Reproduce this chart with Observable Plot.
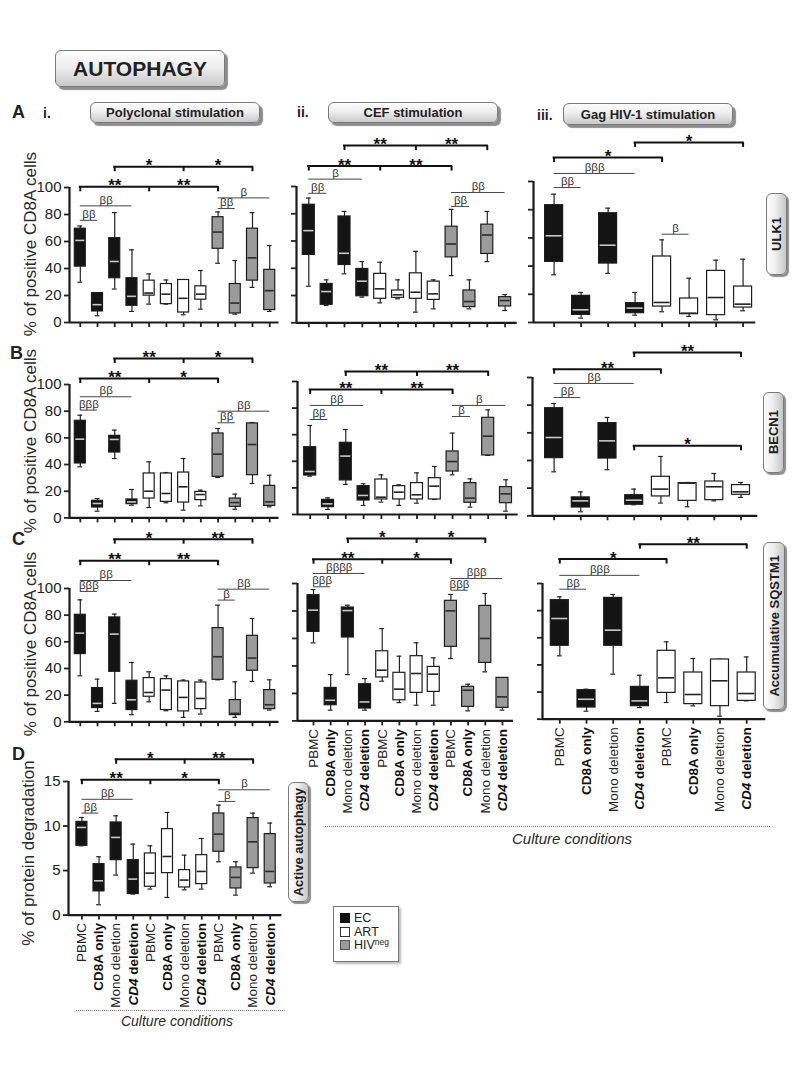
<!DOCTYPE html>
<html><head><meta charset="utf-8">
<script src="https://cdn.jsdelivr.net/npm/d3@7"></script>
<script src="https://cdn.jsdelivr.net/npm/@observablehq/plot@0.6"></script>
<style>
body{margin:0;background:#fff;}
#page{position:relative;width:800px;height:1066px;overflow:hidden;font-family:"Liberation Sans",Arial,sans-serif;color:#222;background:#fff;}
#page div{line-height:1;}
</style>
</head><body><div id="page"></div>
<script>
// ---------- categories ----------
const conditions = ["PBMC", "CD8A only", "Mono deletion", "CD4 deletion"];
const groups = ["EC", "ART", "HIVneg"];
const pctTicks = [0, 20, 40, 60, 80, 100];
const degTicks = [0, 5, 10, 15];

// ---------- box statistics: [min, q1, median, q3, max]; order EC x4, ART x4, HIVneg x4 ----------
const ulk1Poly = [[29.8,41.4,60.8,69.5,71.5],[5,8.2,13.2,21.8,21.8],[24.8,32.8,45.2,62.5,81.4],[8.2,12.4,19.4,32.8,53.8],
  [13.6,19.9,21.8,31,36],[13.6,13.6,21,28.5,31.5],[5.7,7.4,17.9,31.5,31.5],[9.9,16.9,21,26.8,38.5],
  [43.9,54.6,67,78,81.9],[6.2,6.7,14.4,28.5,45.9],[26,31,47.9,69.5,81.4],[8.2,9.2,23.6,39,57]];
const ulk1Cef = [[26.8,49.8,67.6,86.6,91.5],[12.7,13.2,22.9,28.5,31.5],[35.9,42.4,51,78,81.7],[18.8,19.5,30.5,39.5,44.9],
  [14.6,17.6,24.9,35.9,44.4],[17.6,18.3,20.5,23.7,31.5],[7.8,17.6,22.4,36.3,52.4],[10.2,16.8,21.2,30.2,31.5],
  [34.6,48,57.8,70.5,83.2],[10.2,11.5,15.6,23.7,31.5],[44.9,50.5,64.4,72,81.7],[9,12,16.3,18.8,20.7]];
const ulk1Gag = [[33.8,43,61.5,83.2,91],[3.1,5.4,9,18.9,21.3],[34.8,41.8,54.8,77.5,81.1],[5.2,6.6,10.2,13.7,21.3],
  [7.6,11.3,14.2,46.8,58.6],[4.3,5.9,6.6,17,31.4],[1.9,5.2,17.7,36.6,44.2],[8.3,10.6,13,25.5,44.9]];
const becn1Poly = [[38.3,40.8,59,72.8,77],[5,7.8,10.8,12.8,14.5],[44.5,49,58.8,61.5,65.8],[9.5,10.3,12,13.8,21.3],
  [7.8,14.5,20,33.3,42],[11.3,12,18.3,33.3,34],[5.8,11.5,23.3,34,44.5],[9,13.3,17.5,19.5,20.8],
  [30.3,30.8,47.8,63.3,67],[6.5,8.3,11.5,14.5,17.8],[25.8,32,55,70.8,71.5],[8.3,9,12,24,32]];
const becn1Cef = [[28.8,29.3,32.3,50.6,66.9],[3.8,5.5,8,11,12.5],[22.6,25.6,43.9,53.9,63.9],[6.8,10.5,14.3,21.3,23.1],
  [9.3,11.3,13,26.3,29.8],[6.8,11.3,16.8,21.3,22.3],[8.5,11.3,14.8,23.6,31.3],[11.3,11.3,21.3,27.3,36.1],
  [29.8,32.3,39.8,47.4,61.2],[5.5,8.8,12.3,23.6,26.8],[44.4,44.4,58.9,72.7,78.7],[2.5,8.5,15.5,20.6,26.1]];
const becn1Gag = [[31.8,41.7,56.6,77.8,81.2],[2.9,6,10.8,13.3,17.3],[33.3,41.4,54.2,67,71.1],[8,8,11.3,14.9,19.3],
  [9.2,14,19.3,28.2,42.9],[6.5,10.8,23.6,23.6,24.1],[10.8,11.3,21,24.8,30.6],[13.3,15.2,17.3,22.2,24.1]];
const sqstm1Poly = [[34.5,50.8,66.5,80.3,91.5],[7.8,10.3,13.8,25.3,32],[13.8,37.5,65.8,78.3,80.8],[5.3,8.8,16.5,30.8,44.5],
  [15,18.8,22,32.8,37.5],[8.3,8.8,23.8,32,34.5],[3.3,7.8,18.3,30.3,31.3],[5.8,9.5,17.5,29.5,31.3],
  [31.5,31.5,48.8,70.3,87.5],[3.3,5,6.3,16.3,30],[30.3,38.3,47.8,64.5,77.5],[8.8,9.5,12.8,23.8,31.5]];
const sqstm1Cef = [[56.8,64.8,80.6,91.5,95.6],[7.8,11.4,15,24,33.7],[33.7,60.7,80.3,82.5,84.2],[7.8,9,13.8,26.7,30.8],
  [28.9,31.6,36.9,50.7,67.2],[13.3,15,23.1,35,47.1],[11.4,20.4,34.5,47.1,56.8],[11.4,21.1,34,39.3,45.9],
  [45.4,53.9,80.1,87.4,92],[7.3,10.2,22.3,24.8,26.7],[35.7,42.2,60,83.7,92.7],[7.8,9.5,17.5,31.3,31.3]];
const sqstm1Gag = [[46.7,54.1,74.2,87.7,90.2],[5.9,8.6,14.7,21.4,22.1],[33.2,54.1,65.6,89.4,91.9],[8.6,9.6,13.5,23.8,32.4],
  [12.3,19.4,30.5,50.4,57],[9.8,11.1,18.2,34.4,44.7],[2.2,9.6,28.3,44,44.2],[13.5,13.5,18.9,34.4,45.9]];
const degradation = [[7.78,7.78,9.84,10.47,10.96],[1.16,2.66,3.85,5.72,6.55],[4.49,6.17,8.72,10.4,11.15],[2.36,2.36,4.04,6.17,7.97],
  [2.92,3.18,4.71,6.92,7.78],[1.98,4.71,6.58,9.65,11.52],[2.84,3.1,3.93,5.05,6.73],[2.92,3.48,4.9,6.73,8.6],
  [5.99,7.11,9.09,11.41,12.35],[2.24,2.99,4.23,5.35,5.99],[4.71,5.27,8.23,10.89,11.45],[3.18,3.55,4.9,9.09,10.33]];

// ---------- significance annotations (box indices + symbols) ----------
const std = (u, l, b03, b01, b811, b89) => [
  {kind: "pair", a: 2, m: 6, b: 10, t: u}, {kind: "pair", a: 0, m: 4, b: 8, t: l},
  {kind: "beta", a: 0, b: 3, t: b03}, {kind: "beta", a: 0, b: 1, t: b01},
  {kind: "beta", a: 8, b: 11, t: b811}, {kind: "beta", a: 8, b: 9, t: b89}];
const sigA1 = std(["*","*"], ["**","**"], "ββ", "ββ", "β", "ββ");
const sigA2 = std(["**","**"], ["**","**"], "β", "ββ", "ββ", "ββ");
const sigA3 = [{kind:"single",a:3,b:7,t:"*"},{kind:"single",a:0,b:4,t:"*"},{kind:"beta",a:0,b:3,t:"βββ"},{kind:"beta",a:0,b:1,t:"ββ"},{kind:"beta",a:4,b:5,t:"β"}];
const sigB1 = std(["**","*"], ["**","*"], "ββ", "βββ", "ββ", "ββ");
const sigB2 = std(["**","**"], ["**","**"], "ββ", "ββ", "β", "β");
const sigB3 = [{kind:"single",a:3,b:7,t:"**"},{kind:"single",a:0,b:4,t:"**"},{kind:"beta",a:0,b:3,t:"ββ"},{kind:"beta",a:0,b:1,t:"ββ"},{kind:"single",a:3,b:7,t:"*"}];
const sigC1 = std(["*","**"], ["**","**"], "ββ", "βββ", "ββ", "β");
const sigC2 = std(["*","*"], ["**","*"], "ββββ", "βββ", "βββ", "βββ");
const sigC3 = [{kind:"single",a:3,b:7,t:"**"},{kind:"single",a:0,b:4,t:"*"},{kind:"beta",a:0,b:3,t:"βββ"},{kind:"beta",a:0,b:1,t:"ββ"}];
const sigD = std(["*","**"], ["**","*"], "ββ", "ββ", "β", "β");

// ---------- layout (page pixels) ----------
const layouts = [
  {data: ulk1Poly, sig: sigA1, levels: [115.4,100.5,86.4,75.7,92.3,84.4], ax: 68.5, y0: 322, yTop: 187, bx0: 79.3, bdx: 17.22, xEnd: 278, boxPx: 11, top: 100, ticks: pctTicks, yLabels: true},
  {data: ulk1Cef, sig: sigA2, levels: [130,115,105.4,95,95.6,85.4], ax: 296, y0: 322, yTop: 185.7, bx0: 308.3, bdx: 17.85, xEnd: 516.7, boxPx: 12, top: 100, ticks: pctTicks},
  {data: ulk1Gag, sig: sigA3, levels: [127.7,117,105.7,95.7,62.6], ax: 532.7, y0: 321.7, yTop: 180.7, bx0: 553.3, bdx: 27, xEnd: 755, boxPx: 18, top: 100, ticks: pctTicks},
  {data: becn1Poly, sig: sigB1, levels: [119.5,104.5,90.8,80.8,80,71.3], ax: 68.5, y0: 517.7, yTop: 384.3, bx0: 79.3, bdx: 17.22, xEnd: 278, boxPx: 11, top: 100, ticks: pctTicks, yLabels: true},
  {data: becn1Cef, sig: sigB2, levels: [107.5,94,82,71.4,82,73.7], ax: 297.3, y0: 514, yTop: 381, bx0: 310, bdx: 17.8, xEnd: 518, boxPx: 12, top: 100, ticks: pctTicks},
  {data: becn1Gag, sig: sigB3, levels: [118,106,95.7,85.5,50.6], ax: 531.7, y0: 515, yTop: 376.7, bx0: 553.3, bdx: 26.7, xEnd: 757, boxPx: 18, top: 100, ticks: pctTicks},
  {data: sqstm1Poly, sig: sigC1, levels: [137,120.8,106,97.8,99.5,91.3], ax: 68.5, y0: 721, yTop: 587.7, bx0: 79.3, bdx: 17.22, xEnd: 278, boxPx: 11, top: 100, ticks: pctTicks, yLabels: true},
  {data: sqstm1Cef, sig: sigC2, levels: [132.8,117.7,107.3,97.6,103.6,95.1], ax: 296.7, y0: 720.7, yTop: 583.3, bx0: 312.7, bdx: 17.18, xEnd: 512.7, boxPx: 12, top: 100, ticks: pctTicks, xLabels: true},
  {data: sqstm1Gag, sig: sigC3, levels: [129,118,106,95.8], ax: 541.7, y0: 719, yTop: 583.3, bx0: 559, bdx: 26.7, xEnd: 765, boxPx: 18, top: 100, ticks: pctTicks, xLabels: true},
  {data: degradation, sig: sigD, levels: [17.5,15.2,13,11.45,14.07,12.76], ax: 68.3, y0: 914.3, yTop: 780.7, bx0: 81.7, bdx: 17.12, xEnd: 281.7, boxPx: 11, top: 15, ticks: degTicks, yLabels: true, xLabels: true}
];

const fillOf = {EC: "#141414", ART: "#ffffff", HIVneg: "#9b9b9b"};
const medOf = {EC: "#c8c8c8", ART: "#222222", HIVneg: "#2a2a2a"};
const page = document.getElementById("page");

function drawPanel(L) {
  const n = L.data.length;
  const ML = 45, MT = 75, MR = 6, MB = L.xLabels ? 110 : 12;
  const innerW = L.xEnd - L.ax, innerH = L.y0 - L.yTop;
  const width = ML + innerW + MR, height = MT + innerH + MB;
  const xmin = (L.ax - L.bx0) / L.bdx, xmax = (L.xEnd - L.bx0) / L.bdx;
  const unitY = innerH / L.top;
  const hw = L.boxPx / 2 / L.bdx, cap = 2.4 / L.bdx, inset = 1 / L.bdx, drop = 5 / unitY;
  const rows = L.data.map((d, i) => ({i, g: groups[Math.floor(i / 4)], c: conditions[i % 4], min: d[0], q1: d[1], med: d[2], q3: d[3], max: d[4]}));
  const sig = L.sig.map((s, k) => ({...s, lv: L.levels[k]}));
  const brackets = sig.filter(s => s.kind !== "beta");
  const drops = brackets.flatMap(s => (s.kind === "pair" ? [s.a, s.m, s.b] : [s.a, s.b]).map(x => ({x, lv: s.lv})));
  const stars = brackets.flatMap(s => s.kind === "pair"
    ? [{x: (s.a + s.m) / 2, lv: s.lv, t: s.t[0]}, {x: (s.m + s.b) / 2, lv: s.lv, t: s.t[1]}]
    : [{x: (s.a + s.b) / 2, lv: s.lv, t: s.t}]);
  const betas = sig.filter(s => s.kind === "beta").map(s => ({...s, x: (s.a + s.b) / 2}));

  const marks = [];
  for (const g of groups) {
    const r = rows.filter(d => d.g === g);
    if (!r.length) continue;
    marks.push(
      Plot.ruleX(r, {x: "i", y1: "q3", y2: "max", stroke: "#222", strokeWidth: 1.2}),
      Plot.ruleX(r, {x: "i", y1: "min", y2: "q1", stroke: "#222", strokeWidth: 1.2}),
      Plot.ruleY(r, {y: "max", x1: d => d.i - cap, x2: d => d.i + cap, stroke: "#222", strokeWidth: 1.2}),
      Plot.ruleY(r, {y: "min", x1: d => d.i - cap, x2: d => d.i + cap, stroke: "#222", strokeWidth: 1.2}),
      Plot.rect(r, {x1: d => d.i - hw, x2: d => d.i + hw, y1: "q1", y2: "q3", fill: fillOf[g], stroke: "#1c1c1c", strokeWidth: 1.2}),
      Plot.ruleY(r, {y: "med", x1: d => d.i - hw + inset, x2: d => d.i + hw - inset, stroke: medOf[g], strokeWidth: 1.6})
    );
  }
  marks.push(
    Plot.ruleY([0], {stroke: "#1a1a1a", strokeWidth: 2.2}),
    Plot.ruleX([xmin], {stroke: "#1a1a1a", strokeWidth: 2.2}),
    Plot.axisY({ticks: L.ticks, tickSize: 5, tickPadding: 3, tickFormat: L.yLabels ? (d => String(d)) : (() => ""), strokeWidth: 1.8, label: null, fontSize: 15, fill: "#222"}),
    Plot.axisX({ticks: d3.range(n), tickSize: 5, tickFormat: () => "", strokeWidth: 1.8, label: null}),
    // significance brackets
    Plot.ruleY(brackets, {y: "lv", x1: "a", x2: "b", stroke: "#111", strokeWidth: 2, strokeLinecap: "square"}),
    Plot.ruleX(drops, {x: "x", y1: "lv", y2: d => d.lv - drop, stroke: "#111", strokeWidth: 2}),
    Plot.text(stars, {x: "x", y: "lv", text: "t", fontSize: 17, fontWeight: "bold", lineAnchor: "middle", dy: -1, fill: "#111"}),
    Plot.ruleY(betas, {y: "lv", x1: "a", x2: "b", stroke: "#444", strokeWidth: 1}),
    Plot.text(betas, {x: "x", y: "lv", text: "t", fontSize: 11.5, lineAnchor: "middle", dy: -6, fill: "#333"})
  );
  if (L.xLabels) {
    const lab = rows.map(r => ({i: r.i, t: r.c, bold: r.c === "CD8A only" || r.c === "CD4 deletion"}));
    marks.push(
      Plot.text(lab.filter(d => !d.bold), {x: "i", frameAnchor: "bottom", text: "t", rotate: -90, textAnchor: "end", lineAnchor: "middle", dy: 8, fontSize: 13.5, fill: "#222"}),
      Plot.text(lab.filter(d => d.bold), {x: "i", frameAnchor: "bottom", text: "t", rotate: -90, textAnchor: "end", lineAnchor: "middle", dy: 8, fontSize: 13.5, fontWeight: "bold", fill: "#111"})
    );
  }
  const svg = Plot.plot({
    width, height, marginLeft: ML, marginRight: MR, marginTop: MT, marginBottom: MB,
    x: {type: "linear", domain: [xmin, xmax]},
    y: {type: "linear", domain: [0, L.top]},
    style: {fontFamily: "'Liberation Sans', Arial, sans-serif", fontSize: "15px", color: "#222", background: "transparent", overflow: "visible"},
    marks
  });
  d3.select(svg).selectAll("text").filter(function () { return this.textContent === "CD4 deletion"; }).each(function () {
    const t = d3.select(this);
    t.text(null);
    t.append("tspan").attr("font-style", "italic").text("CD4");
    t.append("tspan").text(" deletion");
  });
  svg.style.position = "absolute";
  svg.style.left = (L.ax - ML) + "px";
  svg.style.top = (L.yTop - MT) + "px";
  svg.style.maxWidth = "none";
  svg.style.overflow = "visible";
  page.appendChild(svg);
}
layouts.forEach(drawPanel);

// ---------- text / decorations ----------
function el(html, css) {
  const d = document.createElement("div");
  d.innerHTML = html;
  d.style.cssText = "position:absolute;" + css;
  page.appendChild(d);
  return d;
}
const btn = "box-sizing:border-box;border:1px solid #7a7a7a;border-radius:6px;background:linear-gradient(#fdfdfd,#eeeeee 45%,#c9c9c9);box-shadow:3px 3px 1px #8d8d8d;display:flex;align-items:center;justify-content:center;font-weight:bold;color:#222;";
const vbtn = "box-sizing:border-box;border:1px solid #7a7a7a;border-radius:6px;background:linear-gradient(90deg,#fdfdfd,#eeeeee 45%,#c6c6c6);box-shadow:2px 2px 1px #8d8d8d;display:flex;align-items:center;justify-content:center;font-weight:bold;color:#222;";
const base = (fs, baseline) => `font-size:${fs}px;top:${(baseline - 0.85 * fs).toFixed(1)}px;`;

el("AUTOPHAGY", "left:55px;top:50px;width:170px;height:37px;font-size:21px;" + btn);
el("Polyclonal stimulation", "left:90px;top:102px;width:170px;height:21px;font-size:13px;" + btn);
el("CEF stimulation", "left:328px;top:102px;width:170px;height:21px;font-size:13px;" + btn);
el("Gag HIV-1 stimulation", "left:563px;top:103px;width:170px;height:22px;font-size:13px;" + btn);

const vlab = s => `<span style="writing-mode:vertical-rl;transform:rotate(180deg);white-space:nowrap;">${s}</span>`;
el(vlab("ULK1"), "left:766px;top:193px;width:21px;height:82px;font-size:13px;" + vbtn);
el(vlab("BECN1"), "left:763px;top:392px;width:21px;height:81px;font-size:13px;" + vbtn);
el(vlab("Accumulative SQSTM1"), "left:763px;top:542px;width:22px;height:168px;font-size:13px;" + vbtn);
el(vlab("Active autophagy"), "left:288px;top:782px;width:21px;height:120px;font-size:13px;" + vbtn);

el("A", "left:12px;font-weight:bold;" + base(18, 118));
el("B", "left:10px;font-weight:bold;" + base(18, 359));
el("C", "left:12px;font-weight:bold;" + base(18, 545));
el("D", "left:12px;font-weight:bold;" + base(18, 760));
el("i.", "left:43px;font-weight:bold;" + base(14, 118));
el("ii.", "left:297px;font-weight:bold;" + base(14, 117));
el("iii.", "left:537px;font-weight:bold;" + base(14, 120));

const ytitle = (s, cx, cy) => el(s, `left:${cx}px;top:${cy}px;transform:translate(-50%,-50%) rotate(-90deg);white-space:nowrap;font-size:17px;color:#2a2a2a;`);
ytitle("% of positive CD8A cells", 30, 244);
ytitle("% of positive CD8A cells", 30, 441);
ytitle("% of positive CD8A cells", 30, 644);
ytitle("% of protein degradation", 28, 853);

el("", "left:76px;top:1010px;width:209px;height:0;border-top:1px dotted #8a8a8a;");
el("", "left:325px;top:826px;width:445px;height:0;border-top:1px dotted #8a8a8a;");
el("Culture conditions", "left:177px;top:1021px;transform:translate(-50%,-50%);white-space:nowrap;font-size:14px;font-style:italic;color:#2a2a2a;");
el("Culture conditions", "left:572px;top:838px;transform:translate(-50%,-50%);white-space:nowrap;font-size:15px;font-style:italic;color:#2a2a2a;");

// legend
el("", "left:333px;top:906px;width:66px;height:56px;box-sizing:border-box;border:1px solid #777;box-shadow:2px 2px 2px #bbb;background:#fff;");
const legendItems = [
  {label: "EC", fill: fillOf.EC, border: "#111"},
  {label: "ART", fill: fillOf.ART, border: "#333"},
  {label: "HIV<sup style='font-size:8.5px;vertical-align:4px;line-height:0'>neg</sup>", fill: fillOf.HIVneg, border: "#555"}
];
legendItems.forEach((it, k) => {
  const cy = 918 + k * 13.6;
  el("", `left:340px;top:${cy - 5}px;width:10px;height:10px;box-sizing:border-box;background:${it.fill};border:1px solid ${it.border};`);
  el(it.label, `left:354px;white-space:nowrap;` + base(12.5, cy + 4.5));
});
</script>
</body></html>
